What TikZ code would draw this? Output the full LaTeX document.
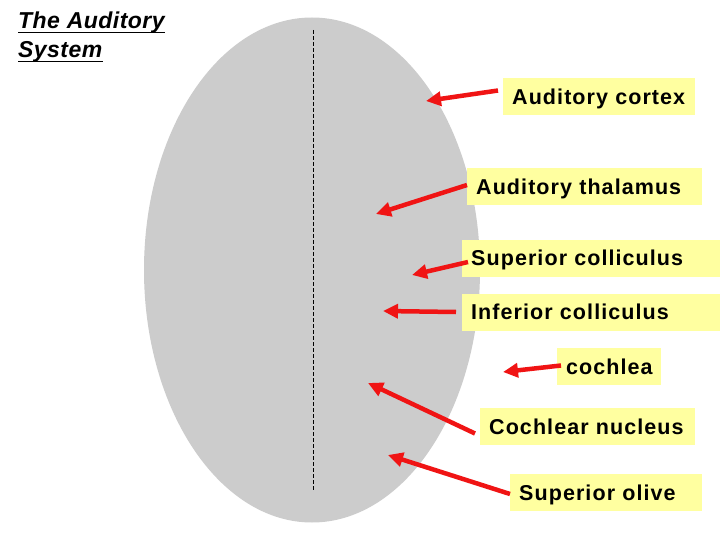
\documentclass[tikz,border=0pt]{standalone}
\usepackage{fontspec}
\setmainfont{Liberation Sans}
\newfontfamily\lblfont[LetterSpace=5]{Liberation Sans}
\newfontfamily\ttlfont[LetterSpace=2]{Liberation Sans}
\usetikzlibrary{arrows.meta,shapes.geometric}
\definecolor{lblyellow}{RGB}{255,255,160}
\definecolor{brain}{RGB}{204,204,204}
\definecolor{arrred}{RGB}{240,20,20}
\tikzset{
  lbl/.style={fill=lblyellow, anchor=west, minimum height=37pt, inner xsep=9pt, inner ysep=0pt, text height=20pt, text depth=4.6pt, align=left, font=\lblfont\bfseries\fontsize{21.5}{25}\selectfont},
  arr/.style={draw=arrred, line width=4.5pt, -{Triangle[length=15pt,width=14pt]}},
  ttl/.style={anchor=base west, inner sep=0pt, font=\ttlfont\bfseries\itshape\fontsize{23}{29}\selectfont},
  uline/.style={line width=1.8pt},
}
\begin{document}
\begin{tikzpicture}[x=1pt,y=-1pt]
\useasboundingbox (0,0) rectangle (720,540);
\fill[white] (0,0) rectangle (720,540);
\node[fill=brain, ellipse, draw=none, minimum width=336pt, minimum height=505pt, inner sep=0pt] (brain) at (312,270) {};
\draw[dashed, line width=0.8pt, dash pattern=on 4pt off 2pt] (313,30) coordinate (mtop) -- (313,490) coordinate (mbot);
\node[ttl] (title1) at (18,29) {The Auditory};
\node[ttl] (title2) at (18,58) {System};
\draw[uline] ([yshift=-3.5pt]title1.base west) -- ([yshift=-3.5pt]title1.base east);
\draw[uline] ([yshift=-3.5pt]title2.base west) -- ([yshift=-3.5pt]title2.base east);
\node[lbl, text width=174pt] (b1) at (503,96.5) {Auditory cortex};
\node[lbl, text width=217pt] (b2) at (467,186.5) {Auditory thalamus};
\node[lbl, text width=240pt] (b3) at (462,258) {Superior colliculus};
\node[lbl, text width=240pt] (b4) at (462,312) {Inferior colliculus};
\node[lbl, text width=86pt] (b5) at (557,366.5) {cochlea};
\node[lbl, text width=197pt] (b6) at (480,426.5) {Cochlear nucleus};
\node[lbl, text width=174pt] (b7) at (510,492.5) {Superior olive};
\coordinate (t1) at (426,101);
\coordinate (t2) at (376,214);
\coordinate (t3) at (412,275);
\coordinate (t4) at (383,311);
\coordinate (t5) at (503,372);
\coordinate (t6) at (368,383);
\coordinate (t7) at (388,455);
\draw[arr] ([xshift=-5pt,yshift=6pt]b1.west) -- (t1);
\draw[arr] ([yshift=1.5pt]b2.west) -- (t2);
\draw[arr] ([xshift=6pt,yshift=-4pt]b3.west) -- (t3);
\draw[arr] ([xshift=-6pt]b4.west) -- (t4);
\draw[arr] ([xshift=4pt,yshift=1pt]b5.west) -- (t5);
\draw[arr] ([xshift=-5pt,yshift=-7pt]b6.west) -- (t6);
\draw[arr] ([yshift=-1.5pt]b7.west) -- (t7);
\end{tikzpicture}
\end{document}
